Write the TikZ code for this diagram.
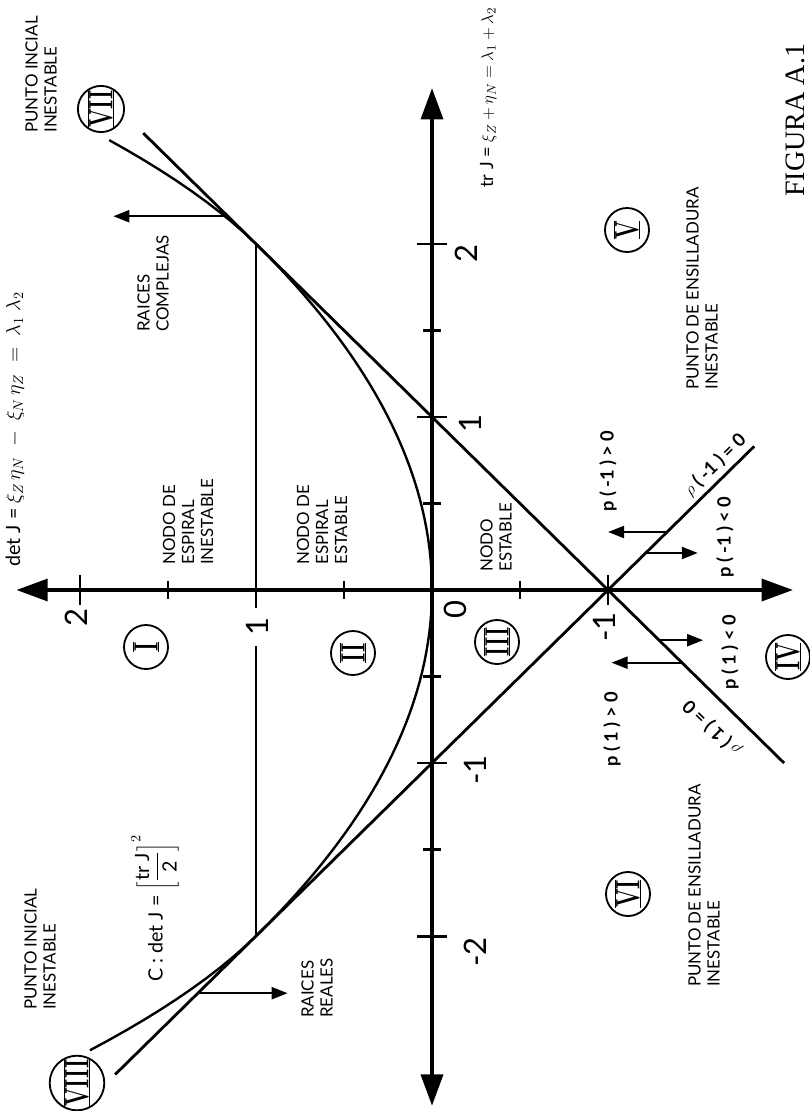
\documentclass[tikz,border=0pt]{standalone}
\usepackage{fontspec}
\usepackage{graphicx}
\usetikzlibrary{arrows.meta}

\newfontfamily\rotfont{Lato}
\newfontfamily\figfont{Liberation Serif}

% numeral romano con barras arriba y abajo
\newcommand{\romano}[1]{\scalebox{0.65}[1]{\fontsize{24}{24}\selectfont\bfseries
  \vbox{\hrule height 1.2pt\hbox{#1}\hrule height 1.2pt}}}

\begin{document}
\begin{tikzpicture}[x=0.025cm, y=-0.025cm,
    eje/.style={line width=2.4pt, {Triangle[length=0.78cm, width=0.55cm]}-{Triangle[length=0.78cm, width=0.55cm]}},
    marca/.style={line width=2pt},
    recta/.style={line width=2pt},
    curva/.style={line width=1.7pt},
    flecha/.style={line width=1.6pt, -{Triangle[length=0.4cm, width=0.3cm]}},
    zona/.style={circle, draw, line width=1.3pt, minimum size=1.1cm, inner sep=0pt, rotate=90},
    rotulo/.style={rotate=90, align=left, inner sep=0pt, font=\rotfont\fontsize{12}{13.5}\selectfont},
    ecuacion/.style={rotulo, font=\rotfont\fontsize{14}{16}\selectfont},
    signo/.style={rotate=90, inner sep=0pt, font=\rotfont\bfseries\fontsize{13}{15}\selectfont},
    signorecta/.style={inner sep=0pt, font=\rotfont\bfseries\fontsize{13}{15}\selectfont},
    numero/.style={rotate=90, inner sep=1pt, font=\rotfont\fontsize{22}{22}\selectfont}]

    \useasboundingbox (0,0) rectangle (809,1111);

    % =================================================================
    % 1. PLANO (tr J, det J), GIRADO 90 GRADOS
    % =================================================================
    \begin{scope}[shift={(432,590)}, rotate=90, x=4.325cm, y=4.4cm]
        \coordinate (O) at (0,0);
        \coordinate (cruce) at (0,-1);
        \coordinate (tanD) at (2,1);
        \coordinate (tanI) at (-2,1);

        % Ejes
        \draw[eje] (0,2.36) -- (0,-2.05);
        \draw[eje] (-2.98,0) -- (2.90,0);

        % Marcas
        \foreach \t in {-2,-1,1,2}
            \draw[marca] (\t,-0.085) -- (\t,0.085);
        \foreach \t in {-1.5,-0.5,0.5,1.5}
            \draw[marca] (\t,-0.05) -- (\t,0.05);
        \foreach \d in {-1,2}
            \draw[marca] (-0.087,\d) -- (0.087,\d);
        \foreach \d in {-0.5,0.5,1.5}
            \draw[marca] (-0.05,\d) -- (0.05,\d);

        % Curva C (dibujada algo abierta en los extremos)
        \draw[curva] plot[domain=-2.66:2.60, samples=90]
            (\x, {\x*\x/4 + 0.4*max(abs(\x)-2,0)^2});

        % Rectas p(1)=0, p(-1)=0 y det J = 1
        \draw[recta] (-1.0,-2.0) -- (2.64,1.64);
        \draw[recta] (-2.8,1.8) -- (0.83,-1.83);
        \draw[recta] (tanI) -- (tanD);

        % Flechas
        \draw[flecha] (2.16,1.16) -- (2.16,1.81);
        \draw[flecha] (-2.33,1.33) -- (-2.33,0.82);
        \draw[flecha] (0.335,-1.335) -- (0.335,-1.0);
        \draw[flecha] (0.214,-1.214) -- (0.214,-1.51);
        \draw[flecha] (-0.29,-1.29) -- (-0.29,-1.54);
        \draw[flecha] (-0.42,-1.42) -- (-0.42,-1.02);
    \end{scope}

    % =================================================================
    % 2. NUMEROS DE LOS EJES
    % =================================================================
    \node[numero] (d2) at (76,618) {2};
    \node[numero, fill=white, inner xsep=7pt] (d1) at (257,627) {1};
    \node[numero] (cero) at (455,610) {0};
    \node[numero] (dm1) at (604,627) {-1};
    \node[numero] (t2) at (466,254) {2};
    \node[numero] (t1) at (470,424) {1};
    \node[numero] (tm1) at (475,770) {-1};
    \node[numero] (tm2) at (475,952) {-2};

    % =================================================================
    % 3. ZONAS
    % =================================================================
    \node[zona] (zI) at (146,647) {\romano{I}};
    \node[zona] (zII) at (353,653) {\romano{II}};
    \node[zona] (zIII) at (497,642) {\romano{III}};
    \node[zona] (zIV) at (788,657) {\romano{IV}};
    \node[zona] (zV) at (627,230) {\romano{V}};
    \node[zona] (zVI) at (628,894) {\romano{VI}};
    \node[zona] (zVII) at (101,109) {\romano{VII}};
    \node[zona] (zVIII) at (77,1083) {\romano{VIII}};

    % =================================================================
    % 4. ROTULOS
    % =================================================================
    \node[rotulo, anchor=west] (inicialA) at (41,133) {PUNTO INCIAL\\INESTABLE};
    \node[rotulo, anchor=west] (inicialB) at (40,1010) {PUNTO INICIAL\\INESTABLE};
    \node[rotulo, anchor=west] (complejas) at (153,332) {RAICES\\COMPLEJAS};
    \node[rotulo, anchor=west] (reales) at (317,1018) {RAICES\\REALES};
    \node[rotulo, anchor=west] (espInest) at (188,565) {NODO DE\\ESPIRAL\\INESTABLE};
    \node[rotulo, anchor=west] (espEst) at (322,565) {NODO DE\\ESPIRAL\\ESTABLE};
    \node[rotulo, anchor=west] (nodoEst) at (496,572) {NODO\\ESTABLE};
    \node[rotulo, anchor=west] (sillaA) at (702,390) {PUNTO DE ENSILLADURA\\INESTABLE};
    \node[rotulo, anchor=west] (sillaB) at (704,987) {PUNTO DE ENSILLADURA\\INESTABLE};

    % Ecuaciones
    \node[ecuacion, anchor=base west] (detJ) at (20,567)
        {det J = $\xi_Z\,\eta_N \;-\; \xi_N\,\eta_Z \;=\; \lambda_1\;\lambda_2$};
    \node[ecuacion, anchor=base west, font=\rotfont\fontsize{13}{15}\selectfont] (trJ) at (493,188)
        {tr J = $\xi_Z + \eta_N = \lambda_1 + \lambda_2$};
    \node[ecuacion, anchor=west] (curvaC) at (155,982)
        {C : det J = $\left[\displaystyle\frac{\mbox{tr J}}{\mbox{2}}\right]^{2}$};

    % Signos de p(1) y p(-1)
    \node[signo, anchor=west] (pm1pos) at (608,512) {p ( -1 ) > 0};
    \node[signo, anchor=west] (pm1neg) at (725,578) {p ( -1 ) < 0};
    \node[signo, anchor=west] (p1neg) at (730,690) {p ( 1 ) < 0};
    \node[signo, anchor=west] (p1pos) at (612,767) {p ( 1 ) > 0};
    \node[signorecta, rotate=44.6] (pm1cero) at (715,465) {$\rho$ ( -1 ) = 0};
    \node[signorecta, rotate=135.5] (p1cero) at (712,728) {$\rho$ ( 1 ) = 0};

    % Titulo
    \node[rotate=90, anchor=base west, inner sep=0pt, font=\figfont\fontsize{20}{20}\selectfont] (fig) at (804,197) {FIGURA A.1};

\end{tikzpicture}
\end{document}
